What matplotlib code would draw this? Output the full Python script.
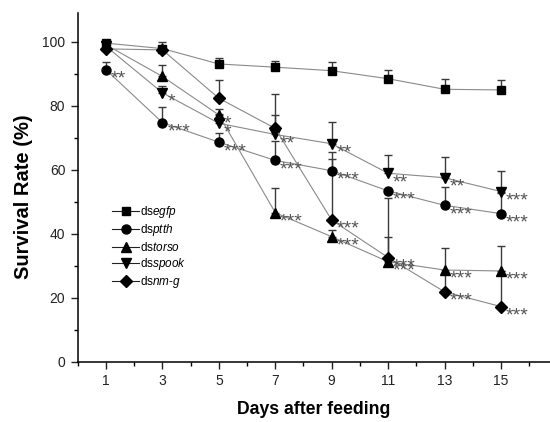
import numpy as np
import matplotlib
matplotlib.use("Agg")
import matplotlib.pyplot as plt
from matplotlib.ticker import MultipleLocator

plt.rcParams['font.family'] = ['Liberation Sans', 'DejaVu Sans']
plt.rcParams['mathtext.fontset'] = 'custom'
plt.rcParams['mathtext.rm'] = 'Liberation Sans'
plt.rcParams['mathtext.it'] = 'Liberation Sans:italic'

# survival rate (%) per day after feeding
days = [1, 3, 5, 7, 9, 11, 13, 15]
egfp = [99.5, 97.8, 93.0, 92.0, 90.9, 88.4, 85.1, 84.9]
ptth = [91.2, 74.7, 68.6, 62.9, 59.7, 53.4, 48.9, 46.3]
torso = [99.0, 89.1, 77.1, 46.6, 39.1, 31.3, 28.7, 28.4]
spook = [98.5, 84.0, 74.5, 71.0, 68.1, 58.9, 57.5, 53.2]
nmg = [97.7, 97.4, 82.3, 72.9, 44.3, 32.6, 21.9, 17.3]

# upper error bars
egfp_err = [1.0, 2.0, 1.9, 2.0, 2.7, 2.7, 3.3, 3.2]
ptth_err = [2.5, 5.0, 3.0, 6.0, 3.6, 0.5, 5.6, 6.5]
torso_err = [1.0, 3.5, 2.0, 7.6, 2.0, 7.6, 6.8, 7.8]
spook_err = [1.0, 2.0, 3.0, 6.1, 6.7, 5.7, 6.4, 6.5]
nmg_err = [1.0, 1.0, 5.6, 10.8, 21.1, 18.7, 6.0, 11.0]

# significance marks next to each point ('' = none)
ptth_sig = ['**', '***', '***', '***', '***', '***', '***', '***']
torso_sig = ['', '', '*', '***', '***', '***', '***', '***']
spook_sig = ['', '*', '*', '**', '**', '**', '**', '***']
nmg_sig = ['', '', '', '', '***', '***', '***', '***']

labels = ['ds$\\mathit{egfp}$', 'ds$\\mathit{ptth}$', 'ds$\\mathit{torso}$',
          'ds$\\mathit{spook}$', 'ds$\\mathit{nm}$-$\\mathit{g}$']
markers = ['s', 'o', '^', 'v', 'D']
msizes = [5.5, 6.5, 6.5, 6.5, 6.0]

series = [egfp, ptth, torso, spook, nmg]
errs = [egfp_err, ptth_err, torso_err, spook_err, nmg_err]
sigs = [None, ptth_sig, torso_sig, spook_sig, nmg_sig]

fig = plt.figure(figsize=(5.5, 4.22), dpi=100)
ax = fig.add_axes([0.1415, 0.1422, 0.8585, 0.8277])

for y, e, lab, m, ms in zip(series, errs, labels, markers, msizes):
    ax.errorbar(days, y, yerr=[np.zeros(len(e)), e], fmt='none',
                ecolor='#3a3a3a', elinewidth=1.0, capsize=3, capthick=1.0, zorder=2)
    ax.plot(days, y, color='#8a8a8a', lw=0.8, marker=m, ms=ms,
            mfc='black', mec='black', label=lab, zorder=3)

for y, s in zip(series, sigs):
    if s is None:
        continue
    for d, v, t in zip(days, y, s):
        if t:
            ax.annotate(t, (d, v), xytext=(3.5, -10), textcoords='offset points',
                        fontsize=14, color='#555555', va='baseline', ha='left', zorder=4)

ax.set_xlim(0, 16.74)
ax.set_ylim(0, 109)
ax.xaxis.set_major_locator(plt.FixedLocator(days))
ax.xaxis.set_minor_locator(MultipleLocator(1))
ax.yaxis.set_major_locator(MultipleLocator(20))
ax.yaxis.set_minor_locator(MultipleLocator(10))
ax.tick_params(which='major', direction='out', length=5, width=1, labelsize=10,
               colors='#222222', pad=4)
ax.tick_params(which='minor', direction='out', length=3, width=1)
for sp in ['top', 'right']:
    ax.spines[sp].set_visible(False)
for sp in ['left', 'bottom']:
    ax.spines[sp].set_linewidth(1.1)

ax.set_xlabel('Days after feeding', fontsize=12.7, fontweight='bold', labelpad=9)
ax.set_ylabel('Survival Rate (%)', fontsize=14.5, fontweight='bold')
ax.yaxis.set_label_coords(-0.094, 0.472)

leg = ax.legend(loc='upper left', bbox_to_anchor=(112 / 550, 1 - 204 / 422),
                bbox_transform=fig.transFigure, frameon=False, fontsize=8.5,
                handlelength=2.3, handletextpad=0.1, labelspacing=0.2, borderpad=0,
                borderaxespad=0)
for h in leg.legend_handles:
    h.set_color('#222222')

fig.savefig('out.png', dpi=100)
